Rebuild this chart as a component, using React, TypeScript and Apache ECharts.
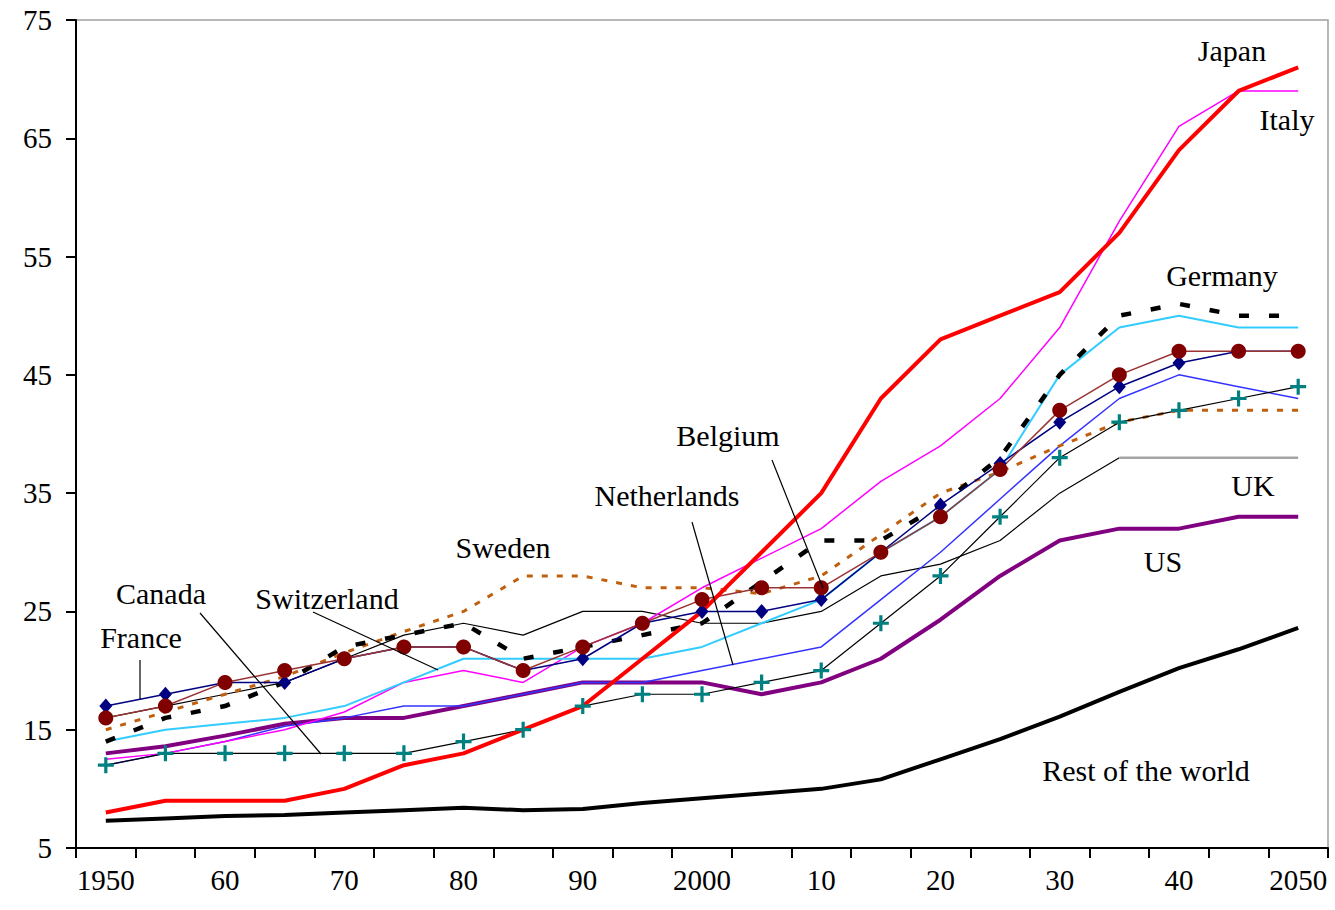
import React, { useEffect, useRef } from "react";
import * as echarts from "echarts";

const years = ["1950","1955","1960","1965","1970","1975","1980","1985","1990","1995","2000","2005","2010","2015","2020","2025","2030","2035","2040","2045","2050"];
const tickLabels = ["1950","","60","","70","","80","","90","","2000","","10","","20","","30","","40","","2050"];

const japan = [8, 9, 9, 9, 10, 12, 13, 15, 17, 21, 25, 30, 35, 43, 48, 50, 52, 57, 64, 69, 71];
const italy = [12.5, 13, 14, 15, 16.5, 19, 20, 19, 22, 24, 27, 29.5, 32, 36, 39, 43, 49, 58, 66, 69, 69];
const germany = [14, 16, 17, 19, 22, 23, 24, 21, 22, 23, 24, 27.5, 31, 31, 34, 38, 45, 50, 51, 50, 50];
const switzerland = [14, 15, 15.5, 16, 17, 19, 21, 21, 21, 21, 22, 24, 26, 30, 33, 37, 45, 49, 50, 49, 49];
const belgium = [16, 17, 19, 20, 21, 22, 22, 20, 22, 24, 26, 27, 27, 30, 33, 37, 42, 45, 47, 47, 47];
const france = [17, 18, 19, 19, 21, 22, 22, 20, 21, 24, 25, 25, 26, 30, 34, 37.5, 41, 44, 46, 47, 47];
const sweden = [15, 16.5, 18, 19.5, 21.5, 23.3, 25, 28, 28, 27, 27, 26.5, 28, 31.5, 35, 36.8, 39, 41, 42, 42, 42];
const netherlands = [12, 13, 14, 15.3, 16, 17, 17, 18, 19, 19, 20, 21, 22, 26, 30, 34.5, 39, 43, 45, 44, 43];
const uk = [16, 17, 18, 19, 21, 23, 24, 23, 25, 25, 24, 24, 25, 28, 29, 31, 35, 38, 38, 38, 38];
const us = [13, 13.6, 14.5, 15.5, 16, 16, 17, 18, 19, 19, 19, 18, 19, 21, 24.3, 28, 31, 32, 32, 33, 33];
const canada = [12, 13, 13, 13, 13, 13, 14, 15, 17, 18, 18, 19, 20, 24, 28, 33, 38, 41, 42, 43, 44];
const restOfWorld = [7.3, 7.5, 7.7, 7.8, 8.0, 8.2, 8.4, 8.2, 8.3, 8.8, 9.2, 9.6, 10.0, 10.8, 12.5, 14.2, 16.1, 18.2, 20.2, 21.8, 23.6];

const UK_GRAY_FROM = 17;

const FONT = '"Liberation Serif", "Times New Roman", serif';
const PLUS = "path://M4,0H6V4H10V6H6V10H4V6H0V4H4Z";

function line(name: string, data: (number | null)[], color: string, width: number, dash?: number[]) {
  const lineStyle: any = { color, width };
  if (dash) lineStyle.type = dash;
  return {
    name,
    type: "line",
    data,
    showSymbol: false,
    symbol: "none",
    lineStyle,
    itemStyle: { color },
  };
}

export default function App() {
  const ref = useRef<HTMLDivElement>(null);
  useEffect(() => {
    if (!ref.current) return;
    const chart = echarts.init(ref.current, null, { renderer: "svg" });

    const ukHead = uk.map((v, i) => (i <= UK_GRAY_FROM ? v : null));
    const ukTail = uk.map((v, i) => (i >= UK_GRAY_FROM ? v : null));

    const label = (text: string, x: number, y: number) => ({
      type: "text",
      x,
      y,
      z: 100,
      style: { text, font: `30px ${FONT}`, fill: "#000", align: "center", verticalAlign: "middle" },
    });
    const pointer = (x1: number, y1: number, x2: number, y2: number) => ({
      type: "line",
      z: 100,
      shape: { x1, y1, x2, y2 },
      style: { stroke: "#000", lineWidth: 1.2 },
    });

    chart.setOption({
      animation: false,
      backgroundColor: "#fff",
      grid: { left: 76, right: 7, top: 20, bottom: 62, show: true, borderColor: "#a0a0a0", borderWidth: 1.5 },
      xAxis: {
        type: "category",
        data: years,
        boundaryGap: true,
        axisLine: { lineStyle: { color: "#000", width: 2 } },
        axisTick: { show: true, interval: 0, length: 10, lineStyle: { color: "#000", width: 2 } },
        axisLabel: {
          interval: 0,
          margin: 17,
          color: "#000",
          fontSize: 29,
          fontFamily: FONT,
          formatter: (_v: string, i: number) => tickLabels[i],
        },
        splitLine: { show: false },
      },
      yAxis: {
        type: "value",
        min: 5,
        max: 75,
        interval: 10,
        axisLine: { show: true, lineStyle: { color: "#000", width: 2 } },
        axisTick: { show: true, length: 10, lineStyle: { color: "#000", width: 2 } },
        axisLabel: { margin: 24, color: "#000", fontSize: 29, fontFamily: FONT },
        splitLine: { show: false },
      },
      series: [
        line("Rest of the world", restOfWorld, "#000", 4),
        line("US", us, "#800080", 4),
        line("UK", ukHead, "#000", 1.2),
        line("UK tail", ukTail, "#a6a6a6", 2.5),
        line("Netherlands", netherlands, "#3333ff", 1.5),
        line("Sweden", sweden, "#c0600f", 3, [6, 9]),
        line("Italy", italy, "#ff00ff", 1.5),
        line("Switzerland", switzerland, "#33ccff", 2),
        line("Germany", germany, "#000", 4.5, [10, 20]),
        {
          name: "France",
          type: "line",
          data: france,
          symbol: "diamond",
          symbolSize: [13, 15],
          lineStyle: { color: "#000080", width: 1.5 },
          itemStyle: { color: "#000080" },
        },
        {
          name: "Belgium",
          type: "line",
          data: belgium,
          symbol: "circle",
          symbolSize: 15,
          lineStyle: { color: "#993333", width: 1.5 },
          itemStyle: { color: "#800000" },
        },
        {
          name: "Canada",
          type: "line",
          data: canada,
          symbol: PLUS,
          symbolSize: 16,
          lineStyle: { color: "#000", width: 1.2 },
          itemStyle: { color: "#008080" },
        },
        line("Japan", japan, "#ff0000", 4),
      ],
      graphic: [
        label("Japan", 1232, 50),
        label("Italy", 1287, 119),
        label("Germany", 1222, 275),
        label("Belgium", 728, 435),
        label("Netherlands", 667, 495),
        label("Sweden", 503, 547),
        label("UK", 1253, 485),
        label("US", 1163, 561),
        label("Canada", 161, 593),
        label("Switzerland", 327, 598),
        label("France", 141, 637),
        label("Rest of the world", 1146, 770),
        pointer(200, 613, 321, 754),
        pointer(313, 612, 438, 670),
        pointer(140, 660, 140, 699),
        pointer(692, 522, 733, 665),
        pointer(772, 460, 823, 588),
      ],
    });
    return () => chart.dispose();
  }, []);
  return <div ref={ref} style={{ position: "fixed", left: 0, top: 0, width: 1335, height: 910 }} />;
}
